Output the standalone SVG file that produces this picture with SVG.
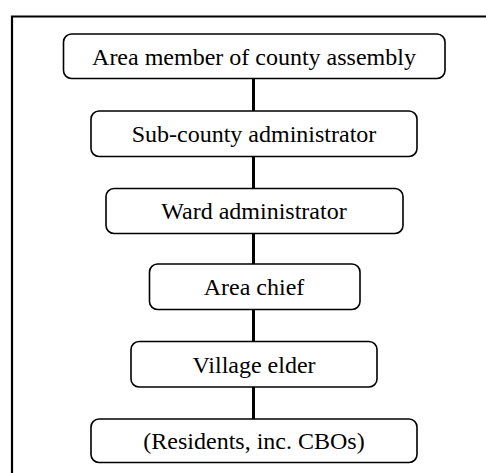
<svg xmlns="http://www.w3.org/2000/svg" width="486" height="473" viewBox="0 0 486 473">
  <style>
    .box { fill: #ffffff; stroke: #000000; stroke-width: 1.6; }
    .lbl { font-family: "Liberation Serif", "Times New Roman", serif; font-size: 24px; fill: #000000; text-anchor: middle; }
    .link { stroke: #000000; stroke-width: 3; fill: none; }
    .frame { stroke: #000000; stroke-width: 2.2; fill: none; }
  </style>
  <rect width="486" height="473" fill="#ffffff"/>
  <!-- outer frame (open on right and bottom) -->
  <path class="frame" d="M12,473 V16.5 H486"/>

  <g id="connectors">
    <line class="link" x1="253.5" y1="78.5" x2="253.5" y2="111"/>
    <line class="link" x1="253.5" y1="156.5" x2="253.5" y2="188.5"/>
    <line class="link" x1="253.5" y1="233.5" x2="253.5" y2="264"/>
    <line class="link" x1="253.5" y1="309.5" x2="253.5" y2="341.5"/>
    <line class="link" x1="253.5" y1="387" x2="253.5" y2="419"/>
  </g>

  <g id="node-mca">
    <rect class="box" x="63.5" y="34" width="381.5" height="44.5" rx="8"/>
    <text class="lbl" x="254" y="64.5">Area member of county assembly</text>
  </g>
  <g id="node-subcounty">
    <rect class="box" x="91" y="111" width="326" height="45.5" rx="8"/>
    <text class="lbl" x="254" y="142">Sub-county administrator</text>
  </g>
  <g id="node-ward">
    <rect class="box" x="106" y="188.5" width="297" height="45" rx="8"/>
    <text class="lbl" x="254" y="219">Ward administrator</text>
  </g>
  <g id="node-chief">
    <rect class="box" x="149.5" y="264" width="210.5" height="45.5" rx="8"/>
    <text class="lbl" x="254" y="295">Area chief</text>
  </g>
  <g id="node-elder">
    <rect class="box" x="131" y="341.5" width="246" height="45.5" rx="8"/>
    <text class="lbl" x="254" y="372.5">Village elder</text>
  </g>
  <g id="node-residents">
    <rect class="box" x="91" y="419" width="326" height="43.5" rx="8"/>
    <text class="lbl" x="254" y="449">(Residents, inc. CBOs)</text>
  </g>
</svg>
